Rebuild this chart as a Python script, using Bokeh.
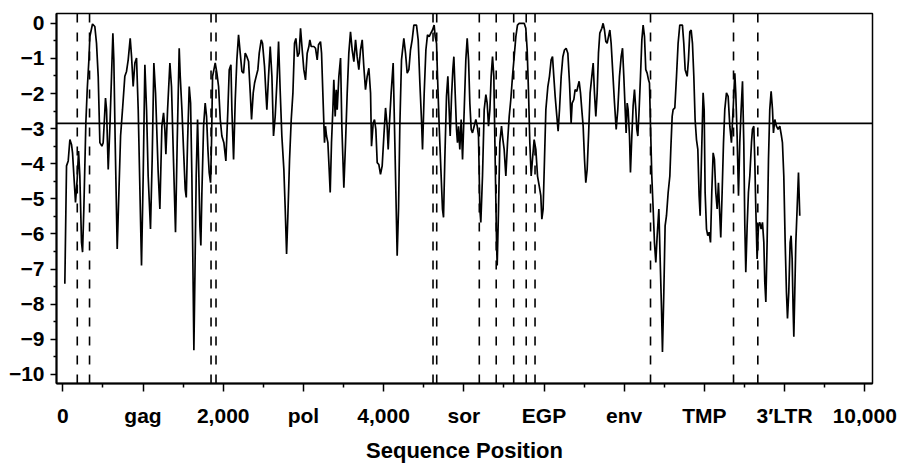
from bokeh.plotting import figure
from bokeh.models import FixedTicker, Span, Range1d
from bokeh.embed import file_html
from bokeh.resources import INLINE

# Sequence position (nt) and score
seq_pos = [
    25, 46, 67, 88, 108, 121, 138, 158, 179, 196, 212, 233, 246, 262, 287, 304, 325, 337, 370, 399,
    420, 441, 462, 487, 503, 516, 532, 545, 566, 587, 607, 624, 636, 653, 678, 699, 720, 744, 773, 794,
    815, 840, 857, 877, 898, 919, 940, 981, 1002, 1023, 1044, 1064, 1093, 1114, 1135, 1156, 1189, 1210,
    1235, 1256, 1272, 1285, 1306, 1335, 1355, 1376, 1405, 1426, 1451,
    1464, 1485, 1505, 1526, 1539, 1555, 1576, 1593, 1609, 1626, 1634, 1647, 1663, 1680, 1692, 1709, 1721,
    1734, 1755, 1775, 1792, 1809, 1825, 1842, 1854, 1867, 1884, 1900, 1921, 1942, 1963, 1983, 2008, 2033,
    2058, 2075, 2096, 2108, 2129, 2150, 2170, 2191, 2212, 2233, 2253, 2274, 2295, 2316, 2337, 2353, 2374,
    2391, 2411, 2432, 2449, 2474, 2490, 2515, 2532, 2544, 2565, 2586, 2607, 2627, 2648, 2673, 2690, 2711,
    2731, 2756, 2773, 2790, 2806, 2827, 2848, 2869, 2889, 2906, 2927, 2947,
    2964, 2985, 3005, 3026, 3047, 3068, 3080, 3097, 3130, 3151, 3172, 3188, 3213, 3226, 3242, 3263, 3275,
    3288, 3305, 3321, 3334, 3350, 3367, 3379, 3396, 3409, 3421, 3442, 3463, 3479, 3504, 3525, 3546, 3566,
    3587, 3608, 3629, 3650, 3670, 3691, 3712, 3733, 3753, 3774, 3795, 3816, 3837, 3849, 3870, 3886, 3903,
    3920, 3940, 3961, 3982, 4003, 4024, 4044, 4057, 4073, 4094, 4119, 4140, 4157, 4169, 4186, 4202, 4223,
    4252, 4273, 4294, 4315, 4335, 4356, 4377, 4410, 4431, 4452, 4472,
    4485, 4506, 4527, 4547, 4568, 4589, 4610, 4630, 4643, 4660, 4672, 4693, 4714, 4734, 4747, 4763, 4784,
    4801, 4817, 4830, 4847, 4863, 4876, 4892, 4909, 4921, 4934, 4950, 4967, 4984, 5005, 5025, 5042, 5059,
    5075, 5092, 5108, 5129, 5150, 5167, 5183, 5200, 5212, 5233, 5254, 5275, 5291, 5308, 5325, 5341, 5358,
    5374, 5391, 5408, 5416, 5433, 5449, 5470, 5487, 5503, 5524, 5545, 5566, 5586, 5607, 5628, 5649, 5669,
    5690, 5753, 5773, 5790, 5807, 5823, 5840, 5856, 5877, 5898, 5919, 5940, 5960, 5973, 5989, 6006, 6023,
    6048, 6068, 6089, 6106, 6122, 6139, 6160, 6176, 6193, 6214, 6235, 6255, 6276, 6297, 6318, 6338, 6351,
    6372, 6388, 6409, 6422, 6438, 6455, 6471, 6488, 6505, 6521, 6538, 6555, 6575, 6596, 6613, 6629, 6646,
    6663, 6679, 6696, 6721, 6737, 6754, 6771, 6787, 6804, 6821, 6837, 6858, 6879, 6900, 6920, 6941, 6962,
    6979, 6995, 7012, 7024, 7037, 7049, 7066, 7078, 7095, 7111, 7128, 7145, 7157, 7170, 7186, 7203, 7220,
    7236, 7253, 7269, 7286, 7303, 7315, 7328, 7344, 7361, 7377, 7394, 7411, 7432, 7448, 7465, 7477, 7494,
    7510,
    7527, 7548, 7569, 7581, 7598, 7610, 7631, 7652, 7672, 7693, 7726, 7743, 7760, 7785, 7801, 7818, 7835,
    7851, 7868, 7884, 7901, 7918, 7934, 7947, 7963, 7984, 7997, 8009, 8026, 8042, 8059, 8076, 8092, 8109,
    8125, 8142, 8159, 8175, 8192, 8204, 8221, 8238, 8254, 8275, 8296, 8317, 8337, 8358, 8379, 8391, 8408,
    8425, 8441, 8458, 8475, 8491, 8504, 8516, 8533, 8549, 8566, 8587, 8599, 8616, 8628, 8641, 8657, 8674,
    8691, 8707, 8724, 8741, 8753, 8766, 8782, 8799, 8815, 8832, 8849, 8861, 8878, 8898, 8919, 8940, 8961,
    8973, 8990, 9007, 9023, 9036, 9052, 9069, 9081, 9094, 9106, 9115, 9127, 9140, 9156, 9173, 9189,
]
score = [
    -7.42, -4.06, -3.92, -3.31, -3.45, -3.69, -4.35, -5.10, -4.44, -3.64, -4.35, -6.24, -6.52, -5.29, -2.84, -1.89, -1.04, -0.38, -0.02, -0.09,
    -0.57, -1.51, -3.40, -3.50, -3.40, -2.84, -2.13, -2.46, -4.16, -2.93, -1.51, -0.28, -1.04, -3.40, -6.43, -4.82, -3.21, -2.46, -1.51, -1.37,
    -1.04, -0.43, -0.95, -1.80, -1.13, -0.99, -2.46, -6.90, -4.35, -1.18, -2.46, -4.35, -5.86, -3.88, -1.13, -1.98, -4.25, -5.29,
    -2.93, -2.55, -3.02, -3.73, -2.46, -1.13, -1.80, -3.59, -5.95, -3.40, -0.71,
    -1.51, -2.46, -3.59, -4.73, -4.96, -3.40, -1.80, -2.27, -4.35, -7.66, -9.31, -7.18, -4.35, -2.74, -3.88, -5.77, -6.33,
    -4.82, -2.93, -2.27, -2.65, -3.59, -4.25, -4.54, -3.40, -1.51, -1.32, -1.13, -1.42, -1.80, -2.74, -3.21, -3.40, -3.92,
    -2.46, -1.32, -1.18, -2.46, -3.88, -2.17, -1.04, -0.33, -0.85, -1.37, -1.42, -0.85, -0.95, -1.09, -1.98, -2.74, -1.98,
    -1.70, -1.51, -1.32, -0.85, -0.47, -0.57, -1.23, -1.98, -2.46, -1.51, -0.66, -1.51, -3.21, -2.65, -1.51, -0.52, -1.98,
    -3.21, -4.16, -5.29, -6.57, -5.48, -3.88, -2.74, -1.98, -0.57, -0.43, -0.95, -0.85,
    -0.14, -0.76, -1.32, -1.61, -0.85, -0.66, -0.47, -0.66, -0.66, -0.71, -1.04, -0.61, -0.52, -0.85, -1.98, -3.40, -2.93,
    -3.21, -3.40, -4.16, -4.82, -3.40, -2.46, -1.61, -2.65, -1.89, -2.46, -1.51, -0.99, -2.93, -4.68, -3.40, -1.98, -0.85,
    -0.24, -0.76, -1.09, -0.47, -0.95, -1.32, -0.76, -0.47, -1.23, -1.89, -1.51, -1.28, -1.98, -3.50, -2.84, -2.74, -3.02,
    -3.97, -4.02, -4.30, -4.06, -3.21, -2.41, -2.93, -3.59, -2.84, -1.98, -1.13, -3.40, -5.29, -6.62, -5.29, -2.93, -1.04,
    -0.43, -0.85, -1.42, -1.32, -0.76, -0.47, -0.05, -0.05, -0.47, -1.70, -2.74,
    -3.59, -1.98, -0.76, -0.33, -0.38, -0.28, -0.19, -0.05, -0.38, -0.57, -1.51, -2.93, -4.16, -5.29, -5.53, -3.88, -2.08,
    -1.51, -2.46, -3.21, -2.08, -1.32, -0.95, -1.98, -3.02, -3.40, -2.93, -3.59, -2.74, -3.88, -2.46, -1.04, -0.43, -1.04,
    -2.27, -3.02, -3.12, -2.93, -2.74, -2.93, -3.21, -5.29, -5.67, -4.35, -2.46, -2.03, -2.27, -2.93, -2.46, -1.51, -0.95,
    -1.51, -3.88, -6.24, -6.90, -5.29, -3.40, -2.93, -3.31, -3.59, -4.35, -3.40, -2.65, -2.17, -1.51, -0.95, -0.38, -0.05,
    0.0, 0.0, -0.14, -0.76, -1.98, -3.40, -4.35, -3.88, -3.31, -3.59, -4.35, -4.63, -4.91, -5.58, -5.29, -3.88, -2.46,
    -1.80, -1.51, -1.04, -0.95, -1.51, -2.08, -2.65, -3.07, -2.46, -1.51, -0.95, -0.76, -0.71, -0.85, -1.70, -2.84, -2.27,
    -2.17, -1.89, -1.94, -1.80, -1.65, -1.98, -2.46, -2.93, -3.88, -4.54, -4.16, -3.21, -1.98, -1.51, -1.13, -1.98, -2.65,
    -1.98, -0.85, -0.28, -0.14, 0.0, -0.19, -0.52, -0.57, -0.38, -0.19, -0.57, -1.42, -2.27, -3.02, -2.46, -1.51, -0.95,
    -0.71, -1.51, -2.46, -3.12, -2.27, -2.46, -3.21, -4.25, -3.21, -2.36, -1.89, -2.46, -3.02, -3.21, -2.46, -1.51, -0.47,
    -0.05, -0.38, -1.32, -1.42, -1.61, -1.70, -2.93, -4.35, -5.29, -6.24, -6.81, -6.05, -5.29, -6.71, -8.13, -9.36, -7.66,
    -5.77,
    -5.48, -4.82, -4.35, -3.59, -2.65, -2.46, -2.41, -1.51, -0.57, -0.05, -0.05, -0.57, -1.32, -1.51, -1.04, -0.24, -0.19,
    -0.57, -1.51, -2.74, -3.31, -3.59, -4.91, -5.48, -3.88, -1.98, -2.46, -4.82, -5.86, -6.05, -5.95, -6.24, -4.82, -3.69,
    -3.88, -4.82, -5.29, -4.54, -5.48, -6.10, -4.82, -3.40, -2.46, -1.98, -2.08, -2.93, -3.40, -2.46, -1.42, -1.98, -3.21,
    -4.91, -3.40, -2.46, -1.65, -3.40, -5.77, -7.09, -5.77, -4.82, -4.35, -3.40, -3.02, -2.93, -3.88, -5.29, -6.71, -5.77,
    -5.67, -5.86, -5.67, -6.24, -7.37, -7.94, -6.24, -3.88, -2.46, -1.94, -2.46, -3.12, -2.74, -2.93, -3.02, -2.93, -3.21,
    -3.40, -4.35, -6.24, -7.66, -8.41, -7.66, -6.24, -6.05, -6.71, -8.13, -8.93, -7.66, -6.24, -5.29, -4.25, -5.48,
]

threshold = -2.85
boundaries = [180, 333, 1848, 1910, 4616, 4662, 5193, 5404, 5622, 5778, 5888, 7328, 8363, 8666]

x_ticks = [0, 1000, 2000, 3000, 4000, 5000, 6000, 7000, 8000, 9000, 10000]
x_tick_labels = ["0", "gag", "2,000", "pol", "4,000", "sor", "EGP", "env", "TMP", "3\u2032LTR", "10,000"]
x_minor = [500, 1500, 2500, 3500, 4500, 5500, 6500, 7500, 8500, 9500]
y_ticks = [-10, -9, -8, -7, -6, -5, -4, -3, -2, -1, 0]
y_tick_labels = ["\u221210", "\u22129", "\u22128", "\u22127", "\u22126", "\u22125", "\u22124", "\u22123", "\u22122", "\u22121", "0"]
y_minor = [-9.5, -8.5, -7.5, -6.5, -5.5, -4.5, -3.5, -2.5, -1.5, -0.5]

FONT = "Liberation Sans"

p = figure(width=909, height=465,
           x_range=Range1d(-79, 10096), y_range=Range1d(-10.26, 0.28),
           output_backend="svg", toolbar_location=None,
           min_border_left=56, min_border_right=37, min_border_top=13, min_border_bottom=80)
p.xgrid.visible = False
p.ygrid.visible = False
p.outline_line_color = "black"
p.outline_line_width = 1.5
p.outline_line_alpha = 1.0
p.background_fill_color = "white"
p.border_fill_color = "white"

p.line(seq_pos, score, line_color="black", line_width=1.7)
p.add_layout(Span(location=threshold, dimension="width", line_color="black", line_width=1.6))
for b in boundaries:
    p.add_layout(Span(location=b, dimension="height", line_color="black",
                      line_width=1.6, line_dash="9 10"))

p.xaxis.ticker = FixedTicker(ticks=x_ticks, minor_ticks=x_minor)
p.xaxis.major_label_overrides = {t: l for t, l in zip(x_ticks, x_tick_labels)}
p.yaxis.ticker = FixedTicker(ticks=y_ticks, minor_ticks=y_minor)
p.yaxis.major_label_overrides = {t: l for t, l in zip(y_ticks, y_tick_labels)}

p.xaxis.axis_label = "Sequence Position"
for ax in (p.xaxis, p.yaxis):
    ax.axis_line_color = "black"
    ax.axis_line_width = 2
    ax.major_tick_line_color = "black"
    ax.minor_tick_line_color = "black"
    ax.major_tick_line_width = 1.5
    ax.minor_tick_line_width = 1.5
    ax.major_tick_in = 0
    ax.minor_tick_in = 0
    ax.major_label_text_font = FONT
    ax.major_label_text_font_style = "bold"
    ax.major_label_text_font_size = "21px"
    ax.major_label_text_color = "black"
    ax.axis_label_text_font = FONT
    ax.axis_label_text_font_style = "bold"
    ax.axis_label_text_font_size = "22px"
    ax.axis_label_text_color = "black"

p.xaxis.major_tick_out = 8
p.xaxis.minor_tick_out = 4
p.xaxis.major_label_standoff = 12
p.xaxis.axis_label_standoff = 8
p.yaxis.major_tick_out = 6
p.yaxis.minor_tick_out = 3
p.yaxis.major_label_standoff = 6

open("out.html", "w").write(file_html(p, INLINE))
